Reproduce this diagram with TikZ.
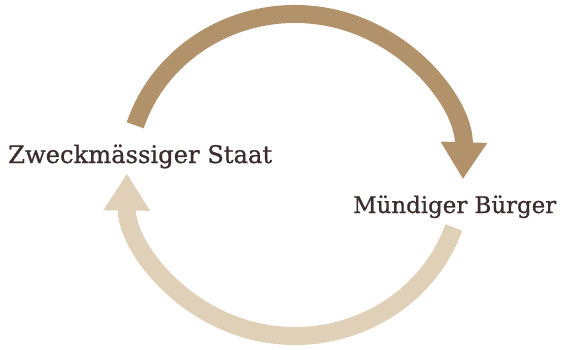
\documentclass[tikz,border=0pt]{standalone}
\usepackage{fontspec}
\setmainfont[FakeBold=0.8]{DejaVu Serif}
\usetikzlibrary{arrows.meta}

\definecolor{dunkel}{RGB}{177,146,106}
\definecolor{hell}{RGB}{224,208,184}
\definecolor{schrift}{RGB}{58,45,43}

\begin{document}
\begin{tikzpicture}[x=1pt, y=1pt,
    label/.style = {anchor=base west, inner sep=0pt, text=schrift},
    pfeil/.style = {line width=18pt, -{Triangle[length=37pt, width=44pt]}}]
    \useasboundingbox (0,0) rectangle (564,349);
    \node[label, font=\fontsize{24.2}{28}\selectfont](staat) at (8,186){Zweckmässiger Staat};
    \node[label, font=\fontsize{22.9}{28}\selectfont](buerger) at (353,136){Mündiger Bürger};
    \coordinate (oben) at (135.2,223.75);
    \coordinate (unten) at (453.8,121.6);
    \draw[pfeil, dunkel] (oben) arc[start angle=162, end angle=-1.5, x radius=168, y radius=161];
    \draw[pfeil, hell] (unten) arc[start angle=-19, end angle=-180.5, x radius=168, y radius=161];
  \end{tikzpicture}
\end{document}
